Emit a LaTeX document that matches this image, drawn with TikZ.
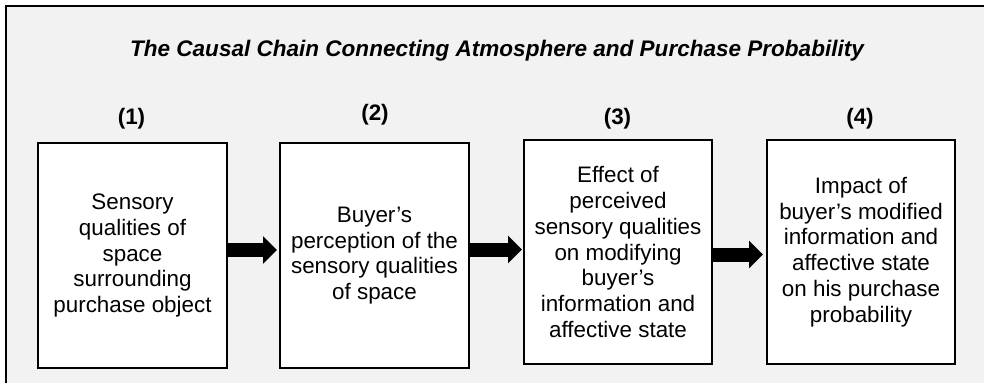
\documentclass[tikz,border=0pt]{standalone}
\usepackage{fontspec}
\setmainfont{Liberation Sans}
\usetikzlibrary{arrows.meta}
\definecolor{panelgray}{HTML}{F2F2F2}
\tikzset{
  stagebox/.style={draw=black, line width=1.5pt, fill=white, inner sep=0pt,
    minimum width=141.75pt, align=center,
    font=\fontsize{16.8pt}{19.3pt}\selectfont},
  stagenum/.style={anchor=base, inner sep=0pt,
    font=\fontsize{16.8pt}{19.5pt}\selectfont\bfseries},
  blockarrow/.style={line width=10.5pt,
    -{Triangle[length=10.5pt, width=20.25pt]}}
}
\begin{document}
\begin{tikzpicture}[x=0.75pt, y=-0.75pt]
\useasboundingbox (0,0) rectangle (984,382);
\clip (0,0) rectangle (984,382);
% panel
\draw[line width=1.5pt, fill=panelgray] (6,6) rectangle (1000,400);
% title
\node[anchor=base, inner sep=0pt, font=\fontsize{16.9pt}{19.5pt}\selectfont\bfseries\itshape]
  (title) at (497,56.5) {The Causal Chain Connecting Atmosphere and Purchase Probability};
% stage numbers
\node[stagenum] (n1) at (131.5,124) {(1)};
\node[stagenum] (n2) at (375,120) {(2)};
\node[stagenum] (n3) at (617.5,124) {(3)};
\node[stagenum] (n4) at (860,124) {(4)};
% stages
\node[stagebox, minimum height=168.75pt] (b1) at (132.5,255.5)
  {Sensory\\qualities of\\space\\surrounding\\purchase object};
\node[stagebox, minimum height=168.75pt] (b2) at (374.5,255.5)
  {Buyer’s\\perception of the\\sensory qualities\\of space};
\node[stagebox, minimum width=141pt, minimum height=168pt] (b3) at (618,252)
  {Effect of\\perceived\\sensory qualities\\on modifying\\buyer’s\\information and\\affective state};
\node[stagebox, minimum width=141pt, minimum height=168pt] (b4) at (861,252)
  {Impact of\\buyer’s modified\\information and\\affective state\\on his purchase\\probability};
% causal links
\draw[blockarrow, shorten >=1.5pt] (b1.east |- 0,250) -- (b2.west |- 0,250);
\draw[blockarrow, shorten >=0.75pt] (b2.east |- 0,249.5) -- (b3.west |- 0,249.5);
\draw[blockarrow, shorten >=2.25pt] (b3.east |- 0,254.5) -- (b4.west |- 0,254.5);
\end{tikzpicture}
\end{document}
